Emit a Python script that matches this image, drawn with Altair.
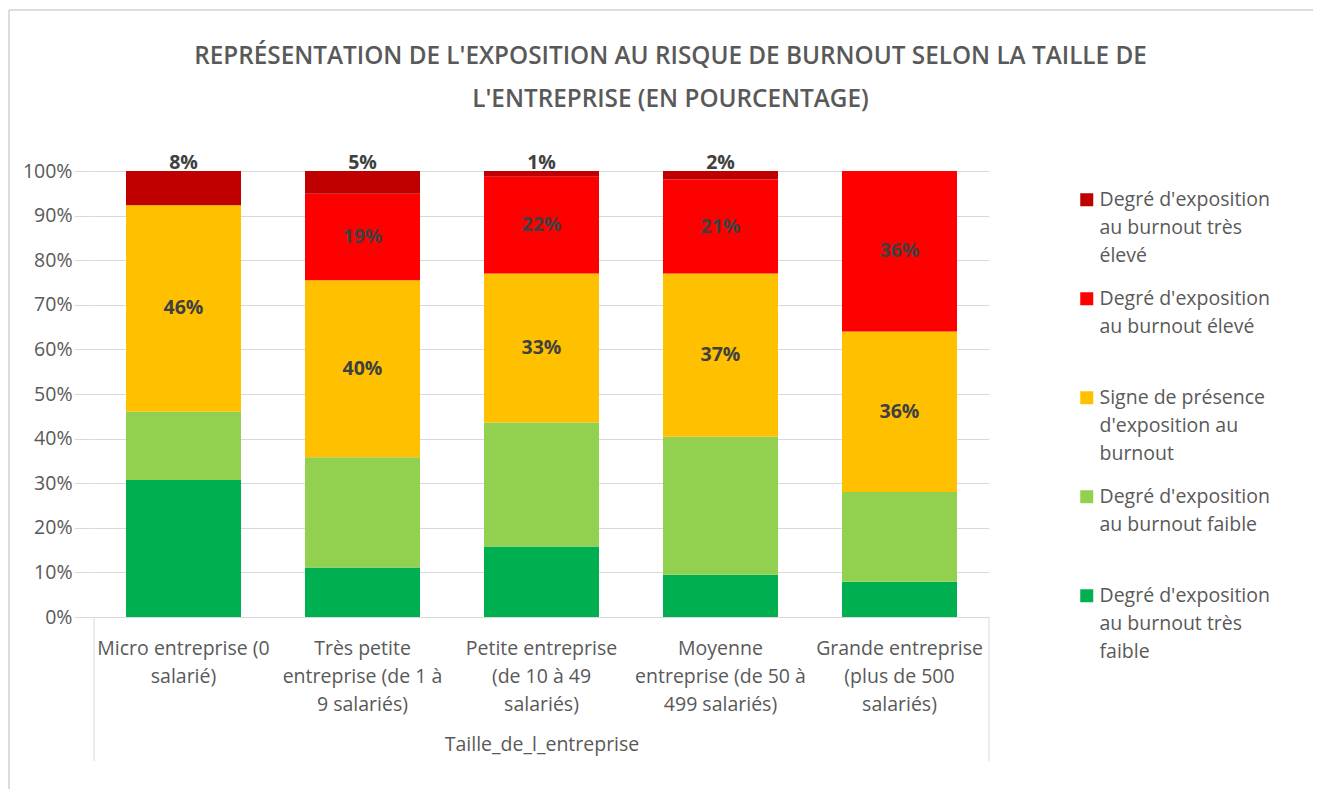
import json
import altair as alt
import pandas as pd

categories = [
    "Micro entreprise (0 salarié)",
    "Très petite entreprise (de 1 à 9 salariés)",
    "Petite entreprise (de 10 à 49 salariés)",
    "Moyenne entreprise (de 50 à 499 salariés)",
    "Grande entreprise (plus de 500 salariés)",
]
category_lines = [
    ["Micro entreprise (0", "salarié)"],
    ["Très petite", "entreprise (de 1 à", "9 salariés)"],
    ["Petite entreprise", "(de 10 à 49", "salariés)"],
    ["Moyenne", "entreprise (de 50 à", "499 salariés)"],
    ["Grande entreprise", "(plus de 500", "salariés)"],
]

series = [
    "Degré d'exposition au burnout très faible",
    "Degré d'exposition au burnout faible",
    "Signe de présence d'exposition au burnout",
    "Degré d'exposition au burnout élevé",
    "Degré d'exposition au burnout très élevé",
]
series_lines = [
    ["Degré d'exposition", "au burnout très", "faible"],
    ["Degré d'exposition", "au burnout faible", ""],
    ["Signe de présence", "d'exposition au", "burnout"],
    ["Degré d'exposition", "au burnout élevé", ""],
    ["Degré d'exposition", "au burnout très", "élevé"],
]
colors = ["#00B050", "#92D050", "#FFC000", "#FF0000", "#C00000"]

tres_faible = [30.7, 11.1, 15.8, 9.5, 7.9]
faible = [15.4, 24.7, 27.8, 30.9, 20.1]
signe = [46.2, 39.7, 33.4, 36.6, 36.0]
eleve = [0.0, 19.4, 21.7, 21.1, 36.0]
tres_eleve = [7.7, 5.1, 1.3, 1.9, 0.0]

title_lines = [
    "REPRÉSENTATION  DE L'EXPOSITION AU RISQUE DE BURNOUT SELON LA TAILLE DE",
    "L'ENTREPRISE (EN POURCENTAGE)",
]
x_title = "Taille_de_l_entreprise"

values_by_series = [tres_faible, faible, signe, eleve, tres_eleve]
rows = []
for si, (s, vals) in enumerate(zip(series, values_by_series)):
    for ci, c in enumerate(categories):
        rows.append({"cat": c, "series": s, "idx": si, "value": vals[ci]})
df = pd.DataFrame(rows)

FONT = "Open Sans"
GREY = "#595959"
FS = 19.5
W, H = 895, 446

cat_map = json.dumps(dict(zip(categories, category_lines)), ensure_ascii=False)
ser_map = json.dumps(dict(zip(series, series_lines)), ensure_ascii=False)

x_enc = alt.X(
    "cat:N",
    sort=categories,
    scale=alt.Scale(paddingInner=0.3575, paddingOuter=0.17875),
    axis=alt.Axis(
        title=x_title,
        labelExpr=f"{cat_map}[datum.label]",
        labelAngle=0,
        domain=True,
        domainColor="#d9d9d9",
        ticks=False,
        labelPadding=22,
        labelBaseline="top",
        labelFont=FONT,
        labelFontSize=FS,
        labelColor=GREY,
        labelLineHeight=28,
        titleFont=FONT,
        titleFontSize=FS,
        titleFontWeight="normal",
        titleColor=GREY,
        titlePadding=22,
    ),
)

base = alt.Chart(df)

bars = base.mark_bar().encode(
    x=x_enc,
    y=alt.Y(
        "value:Q",
        stack="zero",
        scale=alt.Scale(domain=[0, 100], nice=False),
        axis=alt.Axis(
            values=list(range(0, 101, 10)),
            labelExpr="datum.value + '%'",
            title=None,
            domain=False,
            grid=True,
            gridColor="#d9d9d9",
            gridWidth=1,
            tickSize=20,
            tickColor="#d9d9d9",
            labelPadding=2,
            labelFont=FONT,
            labelFontSize=FS,
            labelColor=GREY,
        ),
    ),
    color=alt.Color(
        "series:N",
        scale=alt.Scale(domain=series[::-1], range=colors[::-1]),
        legend=alt.Legend(
            title=None,
            orient="none",
            legendX=983,
            legendY=19,
            labelExpr=f"{ser_map}[datum.label]",
            labelFont=FONT,
            labelFontSize=FS,
            labelColor=GREY,
            labelLimit=400,
            labelOffset=3,
            symbolType="square",
            symbolSize=169,
            symbolStrokeWidth=0,
            symbolOpacity=1,
            rowPadding=22,
            padding=0,
        ),
    ),
    order=alt.Order("idx:Q"),
)

stacked = base.transform_stack(
    stack="value", groupby=["cat"], sort=[alt.SortField("idx")], as_=["y0", "y1"]
).transform_calculate(
    mid="(datum.y0 + datum.y1) / 2",
    lab="round(datum.value) + '%'",
)

mid_labels = stacked.transform_filter(
    "datum.idx >= 2 && datum.idx <= 3 && datum.value > 0"
).mark_text(font=FONT, fontSize=FS, fontWeight="bold", color="#404040").encode(
    x=alt.X("cat:N", sort=categories), y=alt.Y("mid:Q"), text="lab:N"
)

top_labels = stacked.transform_filter("datum.idx == 4 && datum.value > 0").mark_text(
    font=FONT, fontSize=FS, fontWeight="bold", color="#404040", baseline="middle", dy=-8
).encode(x=alt.X("cat:N", sort=categories), y=alt.Y("y1:Q"), text="lab:N")

frame = pd.DataFrame({"k": [0]})
sep_left = alt.Chart(frame).mark_rule(color="#d9d9d9", strokeWidth=1).encode(
    x=alt.value(0), y=alt.value(H), y2=alt.value(H + 144)
)
sep_right = alt.Chart(frame).mark_rule(color="#d9d9d9", strokeWidth=1).encode(
    x=alt.value(W), y=alt.value(H), y2=alt.value(H + 144)
)
border_left = alt.Chart(frame).mark_rule(color="#d0d0d0", strokeWidth=1.5).encode(
    x=alt.value(-85), y=alt.value(-161), y2=alt.value(630)
)
border_top = alt.Chart(frame).mark_rule(color="#d0d0d0", strokeWidth=1.5).encode(
    x=alt.value(-85), x2=alt.value(1240), y=alt.value(-161)
)

chart = (
    alt.layer(bars, mid_labels, top_labels, sep_left, sep_right, border_left, border_top)
    .properties(
        width=W,
        height=H,
        autosize=alt.AutoSizeParams(type="none"),
        padding={"left": 86, "top": 163, "right": 324, "bottom": 172},
        title=alt.TitleParams(
            text=title_lines,
            font=FONT,
            fontSize=24.3,
            fontWeight=600,
            color=GREY,
            anchor="middle",
            dx=129,
            lineHeight=43,
            offset=-103,
        ),
    )
    .configure(style={"guide-label": {"lineHeight": 28}})
    .configure_view(stroke=None)
)

chart.save("out.html", embed_options={"renderer": "svg", "actions": False})
